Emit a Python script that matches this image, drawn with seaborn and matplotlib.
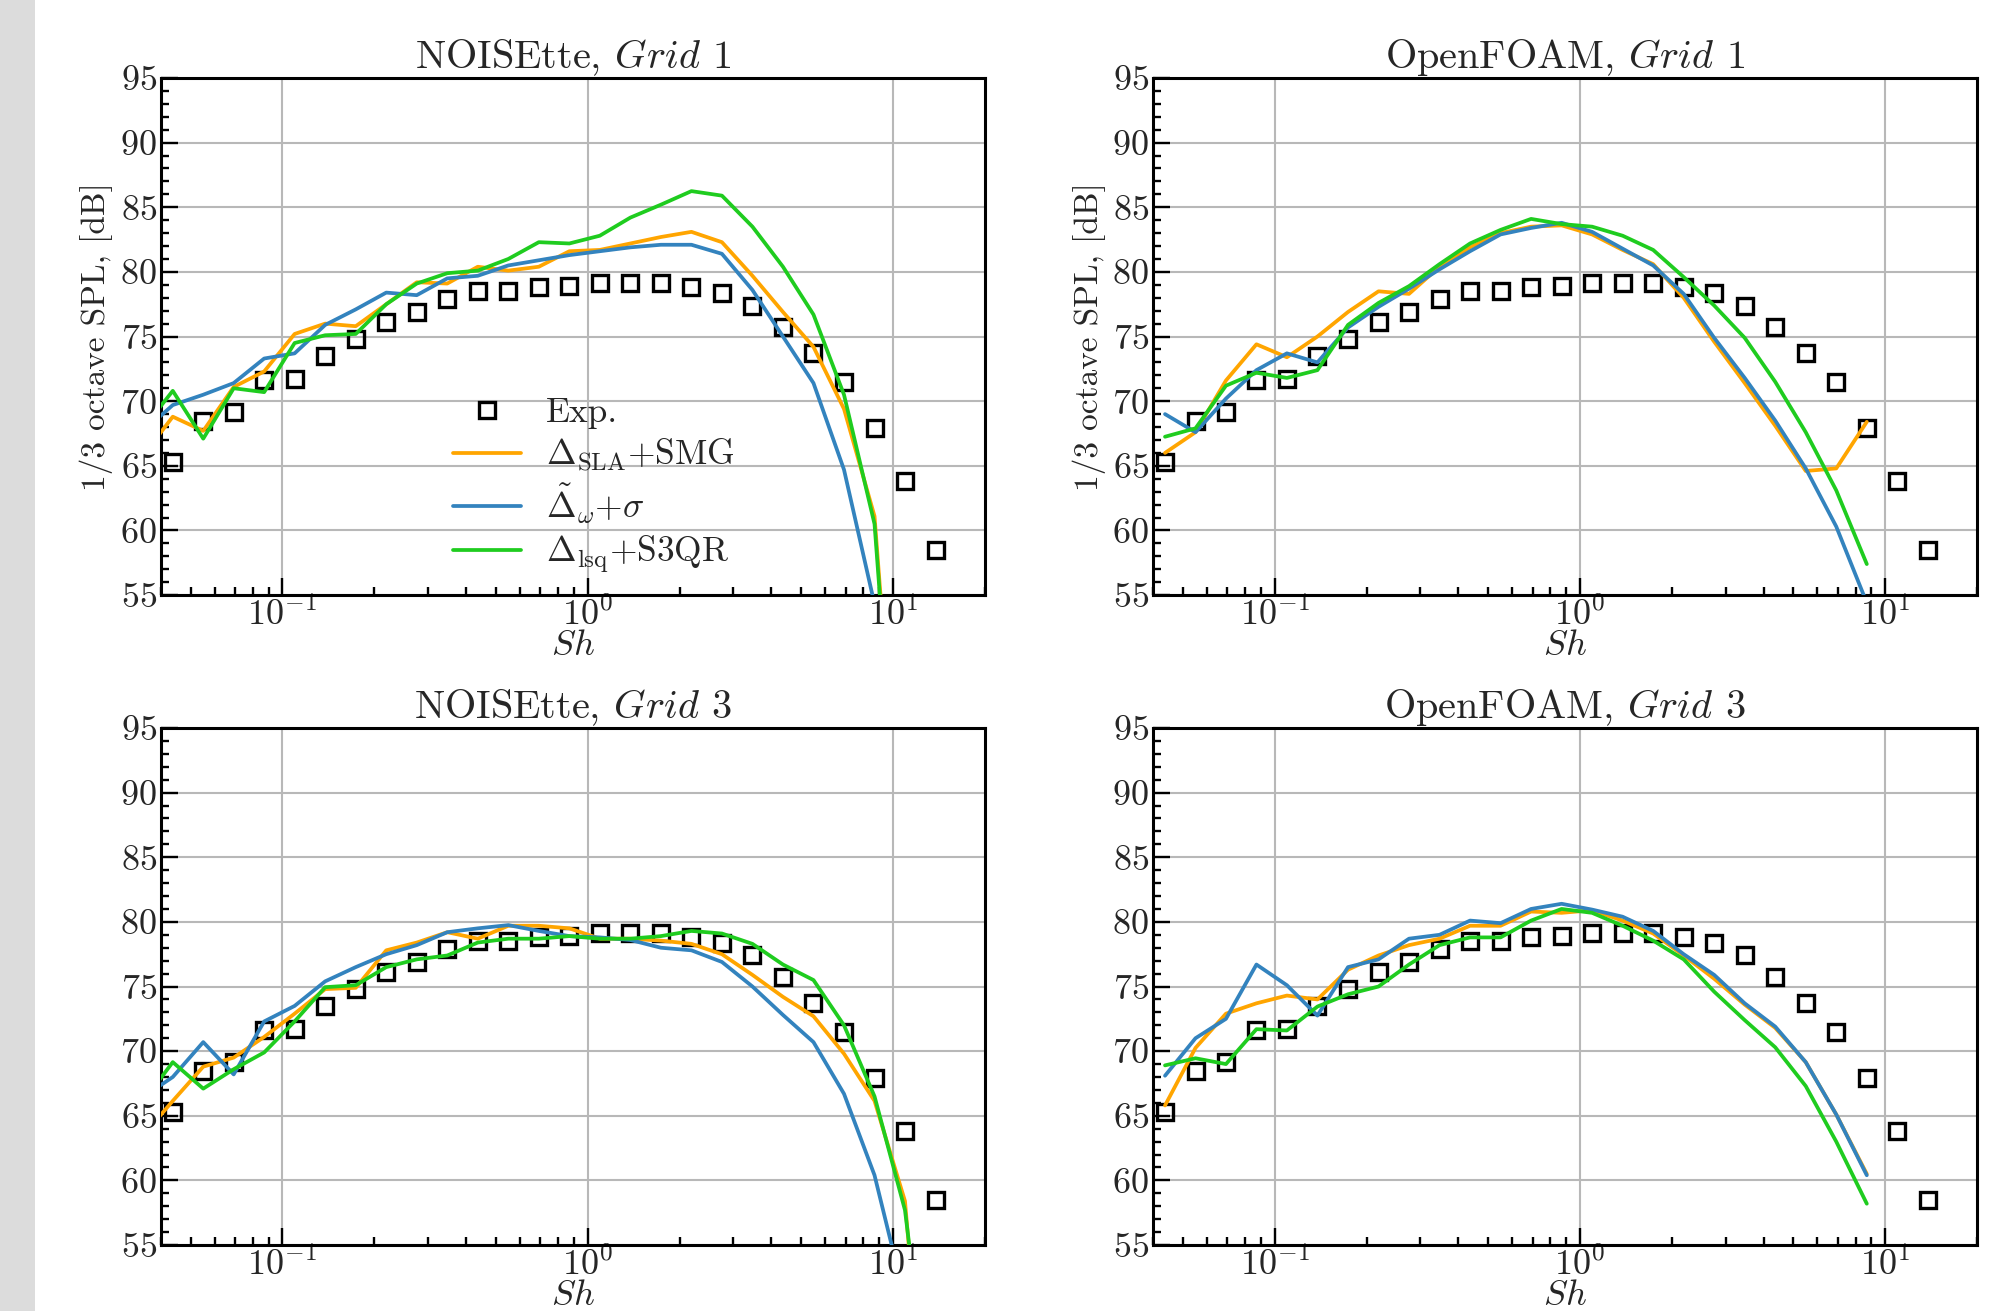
import numpy as np
import pandas as pd
import matplotlib
matplotlib.use("Agg")
import matplotlib.pyplot as plt
import seaborn as sns
from matplotlib.ticker import MultipleLocator, LogLocator, NullFormatter
from matplotlib.patches import Rectangle

# ---------------- data ----------------
SH_EXP = [0.0437, 0.0550, 0.0692, 0.0871, 0.1096, 0.1380, 0.1738, 0.2188, 0.2754,
          0.3467, 0.4365, 0.5495, 0.6918, 0.8710, 1.096, 1.380, 1.738, 2.188,
          2.754, 3.467, 4.365, 5.495, 6.918, 8.710, 10.96, 13.80]
SPL_EXP = [65.3, 68.5, 69.15, 71.6, 71.75, 73.5, 74.8, 76.1, 76.9, 77.9, 78.5, 78.5,
           78.8, 78.9, 79.15, 79.15, 79.15, 78.8, 78.4, 77.4, 75.75, 73.7, 71.45,
           67.9, 63.8, 58.5]

SH_NOISETTE = [0.0347, 0.0437, 0.0550, 0.0692, 0.0871, 0.1096, 0.1380, 0.1738, 0.2188,
               0.2754, 0.3467, 0.4365, 0.5495, 0.6918, 0.8710, 1.096, 1.380, 1.738,
               2.188, 2.754, 3.467, 4.365, 5.495, 6.918, 8.710, 10.96, 13.80]
SH_OPENFOAM = [0.0437, 0.0550, 0.0692, 0.0871, 0.1096, 0.1380, 0.1738, 0.2188, 0.2754,
               0.3467, 0.4365, 0.5495, 0.6918, 0.8710, 1.096, 1.380, 1.738, 2.188,
               2.754, 3.467, 4.365, 5.495, 6.918, 8.710]

nt_g1_sla = [65.7, 68.8, 67.7, 71.1, 72.3, 75.2, 76.0, 75.8, 77.5, 79.2, 79.1, 80.4, 80.1,
             80.4, 81.6, 81.7, 82.2, 82.7, 83.1, 82.3, 79.7, 76.9, 74.2, 69.4, 61.1, 30.0, None]
nt_g1_omega = [67.6, 69.7, 70.5, 71.4, 73.3, 73.7, 75.9, 77.1, 78.4, 78.2, 79.5, 79.7, 80.5,
               80.9, 81.3, 81.6, 81.9, 82.1, 82.1, 81.4, 78.6, 75.0, 71.4, 64.7, 54.3, None, None]
nt_g1_lsq = [67.8, 70.8, 67.1, 71.0, 70.7, 74.5, 75.1, 75.2, 77.5, 79.1, 79.9, 80.1, 81.0,
             82.3, 82.2, 82.8, 84.2, 85.2, 86.25, 85.9, 83.5, 80.4, 76.7, 70.5, 60.5, 29.0, None]

nt_g3_sla = [63.4, 66.15, 68.8, 69.5, 71.1, 72.9, 74.8, 74.9, 77.8, 78.4, 79.2, 78.7, 79.7,
             79.7, 79.5, 78.7, 78.7, 78.55, 78.3, 77.5, 75.9, 74.2, 72.7, 69.8, 66.15, 58.4, 30.7]
nt_g3_omega = [66.4, 68.0, 70.7, 68.2, 72.3, 73.5, 75.4, 76.5, 77.5, 78.2, 79.2, 79.5, 79.75,
               79.3, 78.9, 78.8, 78.6, 78.0, 77.8, 76.9, 75.0, 72.8, 70.7, 66.7, 60.4, 50.8, None]
nt_g3_lsq = [66.0, 69.15, 67.1, 68.6, 69.9, 72.3, 74.95, 75.1, 76.5, 77.1, 77.4, 78.4, 78.7,
             78.7, 78.9, 78.7, 78.7, 78.9, 79.3, 79.1, 78.3, 76.7, 75.5, 72.0, 66.5, 57.7, 38.5]

of_g1_sla = [66.0, 67.6, 71.6, 74.4, 73.4, 75.0, 76.9, 78.5, 78.3, 80.4, 81.9, 83.0, 83.5,
             83.6, 82.9, 81.7, 80.6, 78.0, 74.6, 71.4, 68.1, 64.6, 64.8, 68.4]
of_g1_omega = [69.0, 67.6, 70.2, 72.4, 73.7, 73.0, 75.7, 77.3, 78.7, 80.2, 81.6, 82.9, 83.4,
               83.8, 83.1, 81.8, 80.5, 78.3, 74.9, 71.8, 68.5, 64.8, 60.3, 54.4]
of_g1_lsq = [67.25, 67.9, 71.2, 72.2, 71.8, 72.4, 75.9, 77.6, 78.9, 80.6, 82.2, 83.25, 84.1,
             83.7, 83.5, 82.8, 81.7, 79.6, 77.4, 74.9, 71.5, 67.6, 63.1, 57.4]

of_g3_sla = [65.8, 70.25, 72.9, 73.7, 74.3, 74.0, 76.3, 77.4, 78.2, 78.7, 79.7, 79.7, 80.8,
             80.7, 80.9, 80.1, 79.1, 77.4, 75.6, 73.6, 71.8, 69.15, 65.1, 60.5]
of_g3_omega = [68.1, 71.0, 72.5, 76.7, 75.1, 72.75, 76.5, 77.1, 78.7, 79.0, 80.1, 79.9, 81.0,
               81.4, 80.95, 80.4, 79.3, 77.5, 75.9, 73.7, 71.9, 69.15, 65.1, 60.4]
of_g3_lsq = [68.9, 69.45, 69.0, 71.7, 71.6, 73.45, 74.4, 75.0, 76.7, 78.2, 78.8, 78.8, 80.1,
             81.0, 80.7, 79.7, 78.55, 77.1, 74.6, 72.4, 70.3, 67.3, 63.0, 58.2]

PANEL_CODES = ["NOISEtte", "OpenFOAM", "NOISEtte", "OpenFOAM"]
PANEL_GRIDS = ["1", "1", "3", "3"]
SERIES_LABELS = ["Exp.", r"$\Delta_{\mathrm{SLA}}$+SMG", r"$\tilde{\Delta}_{\omega}$+$\sigma$",
                 r"$\Delta_{\mathrm{lsq}}$+S3QR"]
COLORS = ["#FFA500", "#3383BE", "#1FCC1F"]

panels = [
    (SH_NOISETTE, nt_g1_sla, nt_g1_omega, nt_g1_lsq),
    (SH_OPENFOAM, of_g1_sla, of_g1_omega, of_g1_lsq),
    (SH_NOISETTE, nt_g3_sla, nt_g3_omega, nt_g3_lsq),
    (SH_OPENFOAM, of_g3_sla, of_g3_omega, of_g3_lsq),
]

# ---------------- style ----------------
sns.set_theme(style="ticks")
plt.rcParams.update({
    "font.family": "serif",
    "font.serif": ["cmr10", "DejaVu Serif"],
    "mathtext.fontset": "cm",
    "axes.formatter.use_mathtext": True,
    "axes.unicode_minus": False,
})

fig, axes = plt.subplots(2, 2, figsize=(20.03, 13.11), dpi=100)
fig.subplots_adjust(left=0.0804, right=0.987, bottom=0.0503, top=0.9405,
                    wspace=0.2047, hspace=0.257)
fig.add_artist(Rectangle((0, 0), 35 / 2003, 1, transform=fig.transFigure,
                         facecolor="#dcdcdc", edgecolor="none", zorder=-10))

for i, ax in enumerate(axes.flat):
    xl, sla, om, lsq = panels[i]
    ax.set_xscale("log")
    exp_df = pd.DataFrame({"Sh": SH_EXP, "SPL": SPL_EXP})
    sns.lineplot(data=exp_df, x="Sh", y="SPL", ax=ax, estimator=None, sort=False,
                 linestyle="", marker="s", markersize=11, markerfacecolor="none",
                 markeredgecolor="black", markeredgewidth=2.4, color="black",
                 label=SERIES_LABELS[0], zorder=3)
    for ys, col, lab in zip((sla, om, lsq), COLORS, SERIES_LABELS[1:]):
        df = pd.DataFrame({"Sh": xl, "SPL": pd.array(ys, dtype="Float64").astype(float)})
        df = df.dropna()
        sns.lineplot(data=df, x="Sh", y="SPL", ax=ax, estimator=None, sort=False,
                     color=col, linewidth=2.7, label=lab, zorder=4)

    ax.set_xlim(0.04, 20)
    ax.set_ylim(55, 95)
    ax.yaxis.set_major_locator(MultipleLocator(5))
    ax.yaxis.set_minor_locator(MultipleLocator(1))
    ax.xaxis.set_major_locator(LogLocator(base=10, numticks=12))
    ax.xaxis.set_minor_locator(LogLocator(base=10, subs=np.arange(2, 10), numticks=12))
    ax.xaxis.set_minor_formatter(NullFormatter())
    ax.tick_params(which="both", direction="in", top=False, right=False,
                   bottom=True, left=True, labelsize=26, color="black")
    ax.tick_params(axis="y", which="both", pad=3)
    ax.tick_params(axis="x", which="both", pad=1)
    ax.tick_params(which="major", length=12, width=1.7)
    ax.tick_params(which="minor", length=6, width=1.7)
    ax.grid(True, which="major", color="#b8b8b8", linewidth=1.5)
    ax.grid(False, which="minor")
    for sp in ax.spines.values():
        sp.set_linewidth(2.2)
        sp.set_color("black")
        sp.set_visible(True)

    ax.set_title(PANEL_CODES[i] + r", $\mathit{Grid}$ $\mathit{" + PANEL_GRIDS[i] + "}$",
                 fontsize=29, pad=4)
    ax.set_xlabel(r"$Sh$", fontsize=26, labelpad=-1)
    if i < 2:
        ax.set_ylabel("1/3 octave SPL, [dB]", fontsize=24, labelpad=5)
    else:
        ax.set_ylabel("")

    if i == 0:
        ax.legend(loc="upper left", bbox_to_anchor=(0.355, 0.382), frameon=False,
                  fontsize=25.5, handlelength=1.9, handletextpad=0.7, labelspacing=0.22,
                  borderpad=0, borderaxespad=0)
    else:
        leg = ax.get_legend()
        if leg is not None:
            leg.remove()

fig.savefig("out.png", dpi=100)
